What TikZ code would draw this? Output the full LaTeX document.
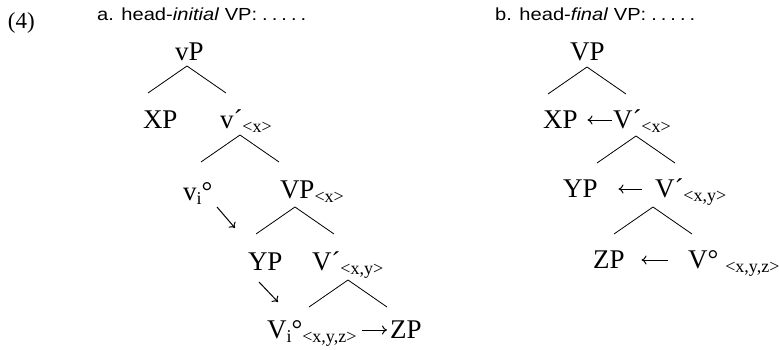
\documentclass[tikz,border=0pt]{standalone}
\usepackage{fontspec}
\setmainfont{Liberation Serif}
\newfontfamily\headfont[FakeStretch=1.15]{Liberation Sans}
\usetikzlibrary{arrows.meta}
\newcommand\lowsub[1]{\raisebox{-4.5pt}{\fontsize{18}{18}\selectfont#1}}
\newcommand\sub[1]{\rlap{\lowsub{#1}}}
\newcommand\dotrow{\hspace{5pt}.\hspace{4pt}.\hspace{4pt}.\hspace{4pt}.\hspace{4pt}.}
\newcommand\branch[3]{\draw[branch] ([xshift=#2pt,yshift=#3pt]#1.base west) +(-39,-27) -- +(0,0) -- +(39,-27);}

\begin{document}
\begin{tikzpicture}[
  x=1pt, y=1pt,
  tree/.style={inner sep=0pt, outer sep=0pt, anchor=base west, text height=16pt, text depth=0pt, font=\fontsize{27}{30}\selectfont},
  head/.style={inner sep=0pt, anchor=base west, font=\headfont\fontsize{17.5}{20}\selectfont},
  branch/.style={line width=0.8pt},
  mv/.style={-{To[length=5pt,width=9pt]}, line width=1pt}
]
  \useasboundingbox (0,0) rectangle (779,349);
  \node[tree, font=\fontsize{23}{26}\selectfont] (ex) at (8,320) {(4)};
  \node[head] (titleA) at (97,328) {a. head-\textit{initial} VP:\dotrow};
  \node[head] (titleB) at (495,328) {b. head-\textit{final} VP:\dotrow};

  \node[tree] (vP) at (175,289) {vP};
  \node[tree] (XPa) at (143,221) {XP};
  \node[tree] (vbar) at (220,221) {v´\sub{<x>}};
  \node[tree] (vi) at (183,149) {v\lowsub{i}°};
  \node[tree] (VPx) at (280,151) {VP\sub{<x>}};
  \node[tree] (YPa) at (248,79) {YP};
  \node[tree] (Vxy) at (312,79) {V´\sub{<x,y>}};
  \node[tree] (Vi) at (267,11) {V\rlap{\lowsub{i}°\lowsub{<x,y,z>}}};
  \node[tree] (ZPa) at (390,11) {ZP};

  \node[tree] (VPb) at (570,289) {VP};
  \node[tree] (XPb) at (543,221) {XP};
  \node[tree] (Vb1) at (613,221) {V´\sub{<x>}};
  \node[tree] (YPb) at (563,152) {YP};
  \node[tree] (Vb2) at (655,152) {V´\sub{<x,y>}};
  \node[tree] (ZPb) at (593,81) {ZP};
  \node[tree] (Vb3) at (688,81) {V°\hspace{7pt}\sub{<x,y,z>}};

  \branch{vP}{12}{-6}
  \branch{vbar}{20}{-7}
  \branch{VPx}{15}{-9}
  \branch{Vxy}{36}{-10}
  \branch{VPb}{17}{-7}
  \branch{Vb1}{23}{-8}
  \branch{Vb2}{-2}{-10}

  \draw[mv] ([xshift=34pt,yshift=-7pt]vi.base west) -- +(18,-21);
  \draw[mv] ([xshift=11pt,yshift=-12pt]YPa.base west) -- +(19,-20);
  \draw[mv, shorten <=75pt, shorten >=3pt] (Vi.east) -- (ZPa.west);
  \draw[mv, shorten <=1pt, shorten >=10pt] (Vb1.west) -- (XPb.east);
  \draw[mv, shorten <=13pt, shorten >=21pt] (Vb2.west) -- (YPb.east);
  \draw[mv, shorten <=20pt, shorten >=17pt] (Vb3.west) -- (ZPb.east);
\end{tikzpicture}
\end{document}
